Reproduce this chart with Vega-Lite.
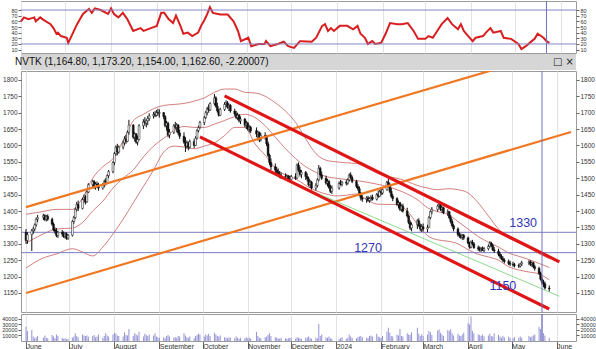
{
"$schema": "https://vega.github.io/schema/vega-lite/v6.json",
"padding": 0,
"background": "white",
"spacing": 0,
"config": {"view": {"stroke": "#9a9a9a"}, "font": "Liberation Sans", "axis": {"labelFont": "Liberation Sans", "labelColor": "#333", "tickColor": "#666", "gridColor": "#e2e2ea", "labelFontSize": 7}},
"datasets": {
"px": [
{"d":"2023-06-01","o":1335,"h":1345,"l":1300,"c":1310,"v":26000},
{"d":"2023-06-02","o":1310,"h":1335,"l":1300,"c":1328,"v":18000},
{"d":"2023-06-05","o":1328,"h":1345,"l":1278,"c":1340,"v":20000},
{"d":"2023-06-06","o":1340,"h":1352,"l":1330,"c":1345,"v":8000},
{"d":"2023-06-07","o":1345,"h":1362,"l":1338,"c":1358,"v":5000},
{"d":"2023-06-08","o":1358,"h":1380,"l":1352,"c":1375,"v":7000},
{"d":"2023-06-09","o":1375,"h":1388,"l":1366,"c":1380,"v":9000},
{"d":"2023-06-13","o":1380,"h":1392,"l":1372,"c":1386,"v":6000},
{"d":"2023-06-14","o":1386,"h":1390,"l":1370,"c":1374,"v":10000},
{"d":"2023-06-15","o":1374,"h":1388,"l":1368,"c":1384,"v":6000},
{"d":"2023-06-16","o":1384,"h":1390,"l":1370,"c":1375,"v":5000},
{"d":"2023-06-19","o":1375,"h":1380,"l":1355,"c":1360,"v":11000},
{"d":"2023-06-20","o":1360,"h":1365,"l":1338,"c":1342,"v":8000},
{"d":"2023-06-21","o":1342,"h":1350,"l":1330,"c":1338,"v":5000},
{"d":"2023-06-22","o":1338,"h":1348,"l":1320,"c":1325,"v":12000},
{"d":"2023-06-23","o":1325,"h":1340,"l":1318,"c":1335,"v":9000},
{"d":"2023-06-26","o":1335,"h":1342,"l":1322,"c":1330,"v":6000},
{"d":"2023-06-27","o":1330,"h":1338,"l":1318,"c":1322,"v":4000},
{"d":"2023-06-28","o":1322,"h":1335,"l":1315,"c":1330,"v":5000},
{"d":"2023-06-29","o":1330,"h":1335,"l":1312,"c":1318,"v":3000},
{"d":"2023-06-30","o":1318,"h":1330,"l":1312,"c":1326,"v":4000},
{"d":"2023-07-03","o":1326,"h":1372,"l":1322,"c":1368,"v":6000},
{"d":"2023-07-04","o":1368,"h":1385,"l":1360,"c":1380,"v":8000},
{"d":"2023-07-05","o":1380,"h":1410,"l":1375,"c":1405,"v":14000},
{"d":"2023-07-06","o":1405,"h":1428,"l":1398,"c":1420,"v":9000},
{"d":"2023-07-07","o":1420,"h":1432,"l":1400,"c":1408,"v":7000},
{"d":"2023-07-10","o":1408,"h":1440,"l":1405,"c":1435,"v":12000},
{"d":"2023-07-11","o":1435,"h":1450,"l":1425,"c":1442,"v":10000},
{"d":"2023-07-12","o":1442,"h":1448,"l":1420,"c":1428,"v":9000},
{"d":"2023-07-13","o":1428,"h":1462,"l":1425,"c":1458,"v":10000},
{"d":"2023-07-14","o":1458,"h":1485,"l":1455,"c":1480,"v":8000},
{"d":"2023-07-17","o":1480,"h":1495,"l":1470,"c":1490,"v":9000},
{"d":"2023-07-18","o":1490,"h":1494,"l":1468,"c":1475,"v":11000},
{"d":"2023-07-19","o":1475,"h":1488,"l":1465,"c":1482,"v":7000},
{"d":"2023-07-20","o":1482,"h":1490,"l":1470,"c":1478,"v":8000},
{"d":"2023-07-21","o":1478,"h":1486,"l":1462,"c":1470,"v":12000},
{"d":"2023-07-24","o":1470,"h":1485,"l":1465,"c":1480,"v":6000},
{"d":"2023-07-25","o":1480,"h":1496,"l":1472,"c":1490,"v":9000},
{"d":"2023-07-26","o":1490,"h":1500,"l":1478,"c":1485,"v":14000},
{"d":"2023-07-27","o":1485,"h":1512,"l":1482,"c":1508,"v":10000},
{"d":"2023-07-28","o":1508,"h":1525,"l":1500,"c":1520,"v":8000},
{"d":"2023-07-31","o":1520,"h":1552,"l":1515,"c":1548,"v":12000},
{"d":"2023-08-01","o":1548,"h":1580,"l":1540,"c":1575,"v":15000},
{"d":"2023-08-02","o":1575,"h":1600,"l":1568,"c":1595,"v":13000},
{"d":"2023-08-03","o":1595,"h":1605,"l":1570,"c":1580,"v":10000},
{"d":"2023-08-04","o":1580,"h":1600,"l":1575,"c":1595,"v":9000},
{"d":"2023-08-07","o":1595,"h":1615,"l":1588,"c":1608,"v":8000},
{"d":"2023-08-08","o":1608,"h":1628,"l":1600,"c":1620,"v":16000},
{"d":"2023-08-09","o":1620,"h":1632,"l":1605,"c":1612,"v":11000},
{"d":"2023-08-10","o":1612,"h":1645,"l":1610,"c":1640,"v":10000},
{"d":"2023-08-11","o":1640,"h":1678,"l":1632,"c":1662,"v":22000},
{"d":"2023-08-14","o":1662,"h":1665,"l":1620,"c":1625,"v":9000},
{"d":"2023-08-15","o":1625,"h":1640,"l":1612,"c":1635,"v":14000},
{"d":"2023-08-16","o":1635,"h":1638,"l":1605,"c":1610,"v":12000},
{"d":"2023-08-17","o":1610,"h":1630,"l":1600,"c":1618,"v":10000},
{"d":"2023-08-18","o":1618,"h":1665,"l":1615,"c":1660,"v":17000},
{"d":"2023-08-21","o":1660,"h":1680,"l":1650,"c":1672,"v":8000},
{"d":"2023-08-22","o":1672,"h":1686,"l":1660,"c":1668,"v":13000},
{"d":"2023-08-23","o":1668,"h":1680,"l":1655,"c":1675,"v":11000},
{"d":"2023-08-24","o":1675,"h":1690,"l":1662,"c":1682,"v":9000},
{"d":"2023-08-25","o":1682,"h":1698,"l":1675,"c":1690,"v":12000},
{"d":"2023-08-28","o":1690,"h":1702,"l":1682,"c":1695,"v":10000},
{"d":"2023-08-29","o":1695,"h":1705,"l":1686,"c":1692,"v":14000},
{"d":"2023-08-30","o":1692,"h":1708,"l":1688,"c":1700,"v":8000},
{"d":"2023-08-31","o":1700,"h":1712,"l":1690,"c":1698,"v":7000},
{"d":"2023-09-01","o":1698,"h":1710,"l":1685,"c":1700,"v":6000},
{"d":"2023-09-04","o":1700,"h":1702,"l":1680,"c":1688,"v":7000},
{"d":"2023-09-05","o":1688,"h":1692,"l":1655,"c":1660,"v":5000},
{"d":"2023-09-06","o":1660,"h":1675,"l":1645,"c":1668,"v":9000},
{"d":"2023-09-07","o":1668,"h":1672,"l":1625,"c":1632,"v":11000},
{"d":"2023-09-08","o":1632,"h":1650,"l":1622,"c":1640,"v":8000},
{"d":"2023-09-11","o":1640,"h":1665,"l":1635,"c":1660,"v":6000},
{"d":"2023-09-12","o":1660,"h":1672,"l":1650,"c":1655,"v":7000},
{"d":"2023-09-13","o":1655,"h":1668,"l":1640,"c":1662,"v":6000},
{"d":"2023-09-14","o":1662,"h":1665,"l":1632,"c":1638,"v":9000},
{"d":"2023-09-15","o":1638,"h":1648,"l":1620,"c":1628,"v":8000},
{"d":"2023-09-18","o":1628,"h":1640,"l":1605,"c":1610,"v":14000},
{"d":"2023-09-19","o":1610,"h":1625,"l":1580,"c":1598,"v":10000},
{"d":"2023-09-20","o":1598,"h":1615,"l":1590,"c":1608,"v":7000},
{"d":"2023-09-21","o":1608,"h":1612,"l":1585,"c":1595,"v":6000},
{"d":"2023-09-22","o":1595,"h":1618,"l":1590,"c":1612,"v":8000},
{"d":"2023-09-25","o":1612,"h":1620,"l":1592,"c":1600,"v":5000},
{"d":"2023-09-26","o":1600,"h":1628,"l":1598,"c":1622,"v":9000},
{"d":"2023-09-27","o":1622,"h":1650,"l":1618,"c":1645,"v":11000},
{"d":"2023-09-28","o":1645,"h":1660,"l":1640,"c":1655,"v":13000},
{"d":"2023-09-29","o":1655,"h":1675,"l":1650,"c":1670,"v":12000},
{"d":"2023-10-02","o":1670,"h":1690,"l":1662,"c":1685,"v":8000},
{"d":"2023-10-03","o":1685,"h":1705,"l":1680,"c":1700,"v":12000},
{"d":"2023-10-04","o":1700,"h":1718,"l":1692,"c":1712,"v":10000},
{"d":"2023-10-05","o":1712,"h":1725,"l":1700,"c":1708,"v":13000},
{"d":"2023-10-06","o":1708,"h":1732,"l":1705,"c":1728,"v":9000},
{"d":"2023-10-09","o":1728,"h":1757,"l":1722,"c":1745,"v":15000},
{"d":"2023-10-10","o":1745,"h":1750,"l":1715,"c":1720,"v":12000},
{"d":"2023-10-11","o":1720,"h":1730,"l":1700,"c":1705,"v":9000},
{"d":"2023-10-12","o":1705,"h":1712,"l":1688,"c":1692,"v":8000},
{"d":"2023-10-13","o":1692,"h":1715,"l":1690,"c":1710,"v":10000},
{"d":"2023-10-16","o":1710,"h":1732,"l":1705,"c":1725,"v":7000},
{"d":"2023-10-17","o":1725,"h":1738,"l":1715,"c":1730,"v":6000},
{"d":"2023-10-18","o":1730,"h":1735,"l":1712,"c":1718,"v":5000},
{"d":"2023-10-19","o":1718,"h":1728,"l":1705,"c":1722,"v":7000},
{"d":"2023-10-20","o":1722,"h":1726,"l":1700,"c":1705,"v":6000},
{"d":"2023-10-23","o":1705,"h":1712,"l":1690,"c":1696,"v":5000},
{"d":"2023-10-24","o":1696,"h":1705,"l":1680,"c":1685,"v":8000},
{"d":"2023-10-25","o":1685,"h":1700,"l":1678,"c":1692,"v":6000},
{"d":"2023-10-26","o":1692,"h":1696,"l":1670,"c":1675,"v":4000},
{"d":"2023-10-27","o":1675,"h":1688,"l":1665,"c":1680,"v":6000},
{"d":"2023-10-30","o":1680,"h":1684,"l":1655,"c":1662,"v":5000},
{"d":"2023-10-31","o":1662,"h":1675,"l":1650,"c":1668,"v":7000},
{"d":"2023-11-01","o":1668,"h":1672,"l":1645,"c":1650,"v":5000},
{"d":"2023-11-02","o":1650,"h":1662,"l":1640,"c":1655,"v":6000},
{"d":"2023-11-03","o":1655,"h":1660,"l":1638,"c":1645,"v":4000},
{"d":"2023-11-07","o":1645,"h":1655,"l":1625,"c":1635,"v":17000},
{"d":"2023-11-08","o":1635,"h":1645,"l":1615,"c":1640,"v":9000},
{"d":"2023-11-09","o":1640,"h":1642,"l":1610,"c":1618,"v":6000},
{"d":"2023-11-10","o":1618,"h":1638,"l":1612,"c":1630,"v":5000},
{"d":"2023-11-13","o":1630,"h":1640,"l":1618,"c":1625,"v":7000},
{"d":"2023-11-14","o":1625,"h":1632,"l":1598,"c":1605,"v":8000},
{"d":"2023-11-15","o":1605,"h":1612,"l":1565,"c":1570,"v":11000},
{"d":"2023-11-16","o":1570,"h":1575,"l":1540,"c":1548,"v":14000},
{"d":"2023-11-17","o":1548,"h":1560,"l":1525,"c":1535,"v":9000},
{"d":"2023-11-20","o":1535,"h":1545,"l":1515,"c":1525,"v":7000},
{"d":"2023-11-21","o":1525,"h":1535,"l":1510,"c":1518,"v":6000},
{"d":"2023-11-22","o":1518,"h":1530,"l":1505,"c":1512,"v":5000},
{"d":"2023-11-23","o":1512,"h":1522,"l":1500,"c":1508,"v":4000},
{"d":"2023-11-24","o":1508,"h":1518,"l":1498,"c":1505,"v":6000},
{"d":"2023-11-27","o":1505,"h":1515,"l":1495,"c":1500,"v":5000},
{"d":"2023-11-28","o":1500,"h":1512,"l":1492,"c":1506,"v":4000},
{"d":"2023-11-29","o":1506,"h":1510,"l":1490,"c":1498,"v":5000},
{"d":"2023-11-30","o":1498,"h":1508,"l":1488,"c":1495,"v":6000},
{"d":"2023-12-01","o":1495,"h":1510,"l":1490,"c":1505,"v":5000},
{"d":"2023-12-04","o":1505,"h":1515,"l":1495,"c":1500,"v":4000},
{"d":"2023-12-05","o":1500,"h":1545,"l":1498,"c":1540,"v":7000},
{"d":"2023-12-06","o":1540,"h":1548,"l":1520,"c":1525,"v":6000},
{"d":"2023-12-07","o":1525,"h":1535,"l":1505,"c":1512,"v":5000},
{"d":"2023-12-08","o":1512,"h":1525,"l":1500,"c":1518,"v":4000},
{"d":"2023-12-11","o":1518,"h":1522,"l":1495,"c":1505,"v":6000},
{"d":"2023-12-12","o":1505,"h":1515,"l":1490,"c":1498,"v":7000},
{"d":"2023-12-13","o":1498,"h":1505,"l":1475,"c":1480,"v":8000},
{"d":"2023-12-14","o":1480,"h":1495,"l":1470,"c":1488,"v":5000},
{"d":"2023-12-15","o":1488,"h":1492,"l":1465,"c":1470,"v":4000},
{"d":"2023-12-18","o":1470,"h":1485,"l":1462,"c":1478,"v":6000},
{"d":"2023-12-19","o":1478,"h":1500,"l":1472,"c":1495,"v":5000},
{"d":"2023-12-20","o":1495,"h":1540,"l":1490,"c":1530,"v":31000},
{"d":"2023-12-21","o":1530,"h":1535,"l":1505,"c":1510,"v":9000},
{"d":"2023-12-22","o":1510,"h":1520,"l":1495,"c":1500,"v":12000},
{"d":"2023-12-25","o":1500,"h":1508,"l":1480,"c":1485,"v":7000},
{"d":"2023-12-26","o":1485,"h":1498,"l":1475,"c":1490,"v":6000},
{"d":"2023-12-27","o":1490,"h":1495,"l":1468,"c":1472,"v":8000},
{"d":"2023-12-28","o":1472,"h":1480,"l":1455,"c":1460,"v":5000},
{"d":"2023-12-29","o":1460,"h":1478,"l":1452,"c":1470,"v":4000},
{"d":"2024-01-03","o":1470,"h":1490,"l":1465,"c":1485,"v":3000},
{"d":"2024-01-04","o":1485,"h":1495,"l":1478,"c":1482,"v":5000},
{"d":"2024-01-05","o":1482,"h":1492,"l":1475,"c":1488,"v":7000},
{"d":"2024-01-08","o":1488,"h":1495,"l":1478,"c":1485,"v":4000},
{"d":"2024-01-09","o":1485,"h":1500,"l":1480,"c":1495,"v":6000},
{"d":"2024-01-10","o":1495,"h":1515,"l":1490,"c":1510,"v":12000},
{"d":"2024-01-11","o":1510,"h":1518,"l":1498,"c":1502,"v":8000},
{"d":"2024-01-12","o":1502,"h":1508,"l":1485,"c":1490,"v":6000},
{"d":"2024-01-15","o":1490,"h":1495,"l":1470,"c":1475,"v":5000},
{"d":"2024-01-16","o":1475,"h":1482,"l":1462,"c":1468,"v":7000},
{"d":"2024-01-17","o":1468,"h":1475,"l":1445,"c":1450,"v":8000},
{"d":"2024-01-18","o":1450,"h":1458,"l":1432,"c":1440,"v":9000},
{"d":"2024-01-19","o":1440,"h":1448,"l":1428,"c":1436,"v":7000},
{"d":"2024-01-22","o":1436,"h":1445,"l":1425,"c":1440,"v":6000},
{"d":"2024-01-23","o":1440,"h":1446,"l":1428,"c":1432,"v":5000},
{"d":"2024-01-24","o":1432,"h":1442,"l":1425,"c":1438,"v":9000},
{"d":"2024-01-25","o":1438,"h":1448,"l":1430,"c":1442,"v":10000},
{"d":"2024-01-26","o":1442,"h":1450,"l":1432,"c":1436,"v":8000},
{"d":"2024-01-29","o":1436,"h":1455,"l":1432,"c":1450,"v":13000},
{"d":"2024-01-30","o":1450,"h":1462,"l":1440,"c":1445,"v":8000},
{"d":"2024-01-31","o":1445,"h":1465,"l":1442,"c":1460,"v":7000},
{"d":"2024-02-01","o":1460,"h":1468,"l":1448,"c":1455,"v":6000},
{"d":"2024-02-02","o":1455,"h":1470,"l":1450,"c":1465,"v":9000},
{"d":"2024-02-05","o":1465,"h":1492,"l":1462,"c":1488,"v":17000},
{"d":"2024-02-06","o":1488,"h":1498,"l":1475,"c":1480,"v":24000},
{"d":"2024-02-07","o":1480,"h":1485,"l":1455,"c":1460,"v":15000},
{"d":"2024-02-08","o":1460,"h":1470,"l":1440,"c":1445,"v":9000},
{"d":"2024-02-09","o":1445,"h":1452,"l":1430,"c":1438,"v":8000},
{"d":"2024-02-12","o":1438,"h":1442,"l":1415,"c":1420,"v":12000},
{"d":"2024-02-13","o":1420,"h":1432,"l":1408,"c":1425,"v":10000},
{"d":"2024-02-14","o":1425,"h":1428,"l":1400,"c":1405,"v":22000},
{"d":"2024-02-15","o":1405,"h":1420,"l":1398,"c":1415,"v":9000},
{"d":"2024-02-16","o":1415,"h":1422,"l":1395,"c":1400,"v":8000},
{"d":"2024-02-19","o":1400,"h":1410,"l":1380,"c":1385,"v":14000},
{"d":"2024-02-20","o":1385,"h":1390,"l":1360,"c":1365,"v":12000},
{"d":"2024-02-21","o":1365,"h":1372,"l":1342,"c":1348,"v":11000},
{"d":"2024-02-22","o":1348,"h":1365,"l":1338,"c":1358,"v":16000},
{"d":"2024-02-26","o":1358,"h":1375,"l":1345,"c":1370,"v":24000},
{"d":"2024-02-27","o":1370,"h":1378,"l":1352,"c":1355,"v":13000},
{"d":"2024-02-28","o":1355,"h":1362,"l":1338,"c":1345,"v":9000},
{"d":"2024-02-29","o":1345,"h":1360,"l":1336,"c":1352,"v":12000},
{"d":"2024-03-01","o":1352,"h":1362,"l":1338,"c":1345,"v":9000},
{"d":"2024-03-04","o":1345,"h":1358,"l":1335,"c":1350,"v":12000},
{"d":"2024-03-05","o":1350,"h":1385,"l":1348,"c":1380,"v":18000},
{"d":"2024-03-06","o":1380,"h":1402,"l":1375,"c":1398,"v":16000},
{"d":"2024-03-07","o":1398,"h":1412,"l":1390,"c":1405,"v":11000},
{"d":"2024-03-11","o":1405,"h":1420,"l":1398,"c":1415,"v":19000},
{"d":"2024-03-12","o":1415,"h":1428,"l":1408,"c":1420,"v":21000},
{"d":"2024-03-13","o":1420,"h":1424,"l":1400,"c":1405,"v":15000},
{"d":"2024-03-14","o":1405,"h":1415,"l":1395,"c":1410,"v":12000},
{"d":"2024-03-15","o":1410,"h":1413,"l":1390,"c":1395,"v":9000},
{"d":"2024-03-18","o":1395,"h":1405,"l":1385,"c":1398,"v":20000},
{"d":"2024-03-19","o":1398,"h":1400,"l":1375,"c":1380,"v":18000},
{"d":"2024-03-20","o":1380,"h":1388,"l":1362,"c":1368,"v":22000},
{"d":"2024-03-21","o":1368,"h":1375,"l":1350,"c":1355,"v":14000},
{"d":"2024-03-22","o":1355,"h":1360,"l":1338,"c":1345,"v":10000},
{"d":"2024-03-25","o":1345,"h":1350,"l":1322,"c":1328,"v":13000},
{"d":"2024-03-26","o":1328,"h":1335,"l":1318,"c":1325,"v":10000},
{"d":"2024-03-27","o":1325,"h":1332,"l":1315,"c":1320,"v":9000},
{"d":"2024-03-28","o":1320,"h":1330,"l":1312,"c":1326,"v":12000},
{"d":"2024-03-29","o":1326,"h":1330,"l":1312,"c":1318,"v":15000},
{"d":"2024-04-01","o":1318,"h":1322,"l":1298,"c":1302,"v":33000},
{"d":"2024-04-02","o":1302,"h":1306,"l":1285,"c":1290,"v":30000},
{"d":"2024-04-03","o":1290,"h":1310,"l":1286,"c":1305,"v":45000},
{"d":"2024-04-04","o":1305,"h":1312,"l":1295,"c":1300,"v":18000},
{"d":"2024-04-05","o":1300,"h":1305,"l":1285,"c":1288,"v":14000},
{"d":"2024-04-08","o":1288,"h":1295,"l":1278,"c":1285,"v":12000},
{"d":"2024-04-09","o":1285,"h":1292,"l":1276,"c":1282,"v":11000},
{"d":"2024-04-10","o":1282,"h":1290,"l":1275,"c":1286,"v":9000},
{"d":"2024-04-11","o":1286,"h":1292,"l":1278,"c":1280,"v":12000},
{"d":"2024-04-12","o":1280,"h":1290,"l":1274,"c":1285,"v":8000},
{"d":"2024-04-15","o":1285,"h":1298,"l":1280,"c":1292,"v":10000},
{"d":"2024-04-16","o":1292,"h":1308,"l":1288,"c":1302,"v":13000},
{"d":"2024-04-17","o":1302,"h":1306,"l":1290,"c":1295,"v":9000},
{"d":"2024-04-18","o":1295,"h":1300,"l":1278,"c":1282,"v":8000},
{"d":"2024-04-19","o":1282,"h":1290,"l":1272,"c":1278,"v":14000},
{"d":"2024-04-22","o":1278,"h":1285,"l":1262,"c":1268,"v":11000},
{"d":"2024-04-23","o":1268,"h":1275,"l":1255,"c":1262,"v":8000},
{"d":"2024-04-24","o":1262,"h":1268,"l":1250,"c":1255,"v":6000},
{"d":"2024-04-25","o":1255,"h":1262,"l":1245,"c":1250,"v":9000},
{"d":"2024-04-26","o":1250,"h":1256,"l":1240,"c":1246,"v":7000},
{"d":"2024-04-29","o":1246,"h":1252,"l":1235,"c":1240,"v":8000},
{"d":"2024-04-30","o":1240,"h":1248,"l":1232,"c":1238,"v":6000},
{"d":"2024-05-02","o":1238,"h":1245,"l":1230,"c":1236,"v":5000},
{"d":"2024-05-03","o":1236,"h":1242,"l":1228,"c":1234,"v":7000},
{"d":"2024-05-06","o":1234,"h":1240,"l":1226,"c":1232,"v":6000},
{"d":"2024-05-07","o":1232,"h":1242,"l":1228,"c":1238,"v":8000},
{"d":"2024-05-08","o":1238,"h":1248,"l":1232,"c":1242,"v":6000},
{"d":"2024-05-13","o":1242,"h":1250,"l":1235,"c":1245,"v":9000},
{"d":"2024-05-14","o":1245,"h":1250,"l":1232,"c":1238,"v":7000},
{"d":"2024-05-15","o":1238,"h":1246,"l":1230,"c":1242,"v":8000},
{"d":"2024-05-16","o":1242,"h":1245,"l":1225,"c":1230,"v":10000},
{"d":"2024-05-17","o":1230,"h":1236,"l":1218,"c":1225,"v":12000},
{"d":"2024-05-20","o":1225,"h":1230,"l":1205,"c":1210,"v":26000},
{"d":"2024-05-21","o":1210,"h":1215,"l":1188,"c":1192,"v":22000},
{"d":"2024-05-22","o":1192,"h":1200,"l":1175,"c":1182,"v":47000},
{"d":"2024-05-23","o":1182,"h":1190,"l":1168,"c":1178,"v":14000},
{"d":"2024-05-24","o":1178,"h":1185,"l":1160,"c":1165,"v":10000},
{"d":"2024-05-27","o":1164.8,"h":1173.2,"l":1154,"c":1162.6,"v":6000}
],
"bb": [
{"d":"2023-06-01","u":1390,"m":1302,"l":1226},
{"d":"2023-06-12","u":1398,"m":1328,"l":1255},
{"d":"2023-06-22","u":1405,"m":1345,"l":1269},
{"d":"2023-07-03","u":1405,"m":1348,"l":1285},
{"d":"2023-07-10","u":1440,"m":1365,"l":1275},
{"d":"2023-07-17","u":1500,"m":1400,"l":1263},
{"d":"2023-07-24","u":1535,"m":1430,"l":1290},
{"d":"2023-07-31","u":1560,"m":1470,"l":1330},
{"d":"2023-08-07","u":1614,"m":1500,"l":1375},
{"d":"2023-08-14","u":1675,"m":1525,"l":1425},
{"d":"2023-08-21","u":1695,"m":1565,"l":1475},
{"d":"2023-08-28","u":1712,"m":1598,"l":1525},
{"d":"2023-09-04","u":1722,"m":1622,"l":1580},
{"d":"2023-09-11","u":1725,"m":1645,"l":1598},
{"d":"2023-09-18","u":1728,"m":1658,"l":1595},
{"d":"2023-09-25","u":1735,"m":1655,"l":1590},
{"d":"2023-10-02","u":1745,"m":1655,"l":1598},
{"d":"2023-10-09","u":1762,"m":1665,"l":1608},
{"d":"2023-10-16","u":1772,"m":1676,"l":1630},
{"d":"2023-10-23","u":1772,"m":1688,"l":1655},
{"d":"2023-10-30","u":1762,"m":1695,"l":1655},
{"d":"2023-11-06","u":1760,"m":1685,"l":1605},
{"d":"2023-11-13","u":1750,"m":1660,"l":1570},
{"d":"2023-11-20","u":1730,"m":1625,"l":1530},
{"d":"2023-11-27","u":1705,"m":1590,"l":1510},
{"d":"2023-12-04","u":1670,"m":1560,"l":1498},
{"d":"2023-12-11","u":1620,"m":1535,"l":1478},
{"d":"2023-12-18","u":1575,"m":1518,"l":1462},
{"d":"2023-12-25","u":1555,"m":1505,"l":1452},
{"d":"2024-01-01","u":1550,"m":1500,"l":1446},
{"d":"2024-01-08","u":1547,"m":1496,"l":1448},
{"d":"2024-01-15","u":1545,"m":1493,"l":1452},
{"d":"2024-01-22","u":1532,"m":1488,"l":1435},
{"d":"2024-01-29","u":1516,"m":1482,"l":1421},
{"d":"2024-02-05","u":1505,"m":1475,"l":1420},
{"d":"2024-02-12","u":1500,"m":1465,"l":1420},
{"d":"2024-02-19","u":1490,"m":1452,"l":1400},
{"d":"2024-02-26","u":1478,"m":1435,"l":1360},
{"d":"2024-03-04","u":1470,"m":1410,"l":1325},
{"d":"2024-03-11","u":1465,"m":1398,"l":1312},
{"d":"2024-03-18","u":1468,"m":1390,"l":1308},
{"d":"2024-03-25","u":1465,"m":1368,"l":1300},
{"d":"2024-04-01","u":1455,"m":1345,"l":1282},
{"d":"2024-04-08","u":1425,"m":1322,"l":1268},
{"d":"2024-04-15","u":1385,"m":1305,"l":1260},
{"d":"2024-04-22","u":1345,"m":1290,"l":1250},
{"d":"2024-04-29","u":1318,"m":1272,"l":1230},
{"d":"2024-05-06","u":1305,"m":1262,"l":1220},
{"d":"2024-05-13","u":1288,"m":1252,"l":1214},
{"d":"2024-05-20","u":1270,"m":1240,"l":1208},
{"d":"2024-05-27","u":1255,"m":1228,"l":1190}
],
"rsi": [
{"d":"2023-06-01","r":60},{"d":"2023-06-03","r":67},{"d":"2023-06-06","r":64},{"d":"2023-06-10","r":67},{"d":"2023-06-11","r":60},{"d":"2023-06-14","r":67},{"d":"2023-06-16","r":63},{"d":"2023-06-21","r":55},{"d":"2023-06-23","r":48},{"d":"2023-06-25","r":38},{"d":"2023-06-26","r":40},{"d":"2023-06-28","r":34},{"d":"2023-07-02","r":31},{"d":"2023-07-03","r":22},{"d":"2023-07-09","r":55},{"d":"2023-07-11","r":64},{"d":"2023-07-13","r":73},{"d":"2023-07-17","r":82},{"d":"2023-07-19","r":75},{"d":"2023-07-21","r":83},{"d":"2023-07-25","r":80},{"d":"2023-07-30","r":73},{"d":"2023-08-01","r":83},{"d":"2023-08-03","r":73},{"d":"2023-08-06","r":67},{"d":"2023-08-09","r":75},{"d":"2023-08-12","r":64},{"d":"2023-08-16","r":43},{"d":"2023-08-21","r":48},{"d":"2023-08-23","r":43},{"d":"2023-08-28","r":48},{"d":"2023-09-01","r":52},{"d":"2023-09-04","r":75},{"d":"2023-09-06","r":75},{"d":"2023-09-09","r":64},{"d":"2023-09-12","r":57},{"d":"2023-09-14","r":70},{"d":"2023-09-17","r":52},{"d":"2023-09-19","r":38},{"d":"2023-09-22","r":40},{"d":"2023-09-25","r":34},{"d":"2023-09-29","r":40},{"d":"2023-10-01","r":52},{"d":"2023-10-03","r":61},{"d":"2023-10-05","r":72},{"d":"2023-10-07","r":85},{"d":"2023-10-09","r":75},{"d":"2023-10-14","r":72},{"d":"2023-10-19","r":72},{"d":"2023-10-23","r":60},{"d":"2023-10-26","r":43},{"d":"2023-10-28","r":25},{"d":"2023-11-02","r":31},{"d":"2023-11-04","r":16},{"d":"2023-11-09","r":20},{"d":"2023-11-13","r":20},{"d":"2023-11-14","r":25},{"d":"2023-11-17","r":16},{"d":"2023-11-22","r":20},{"d":"2023-11-26","r":24},{"d":"2023-11-29","r":16},{"d":"2023-12-03","r":13},{"d":"2023-12-07","r":25},{"d":"2023-12-08","r":25},{"d":"2023-12-15","r":24},{"d":"2023-12-18","r":31},{"d":"2023-12-22","r":52},{"d":"2023-12-24","r":55},{"d":"2023-12-26","r":43},{"d":"2023-12-28","r":48},{"d":"2023-12-30","r":43},{"d":"2024-01-03","r":52},{"d":"2024-01-08","r":52},{"d":"2024-01-12","r":46},{"d":"2024-01-15","r":52},{"d":"2024-01-17","r":38},{"d":"2024-01-20","r":31},{"d":"2024-01-22","r":20},{"d":"2024-01-25","r":25},{"d":"2024-01-27","r":20},{"d":"2024-01-31","r":22},{"d":"2024-02-03","r":38},{"d":"2024-02-06","r":57},{"d":"2024-02-11","r":55},{"d":"2024-02-14","r":55},{"d":"2024-02-18","r":57},{"d":"2024-02-22","r":43},{"d":"2024-02-25","r":29},{"d":"2024-03-01","r":29},{"d":"2024-03-03","r":34},{"d":"2024-03-06","r":31},{"d":"2024-03-09","r":43},{"d":"2024-03-12","r":55},{"d":"2024-03-16","r":66},{"d":"2024-03-19","r":55},{"d":"2024-03-23","r":46},{"d":"2024-03-25","r":55},{"d":"2024-03-27","r":43},{"d":"2024-03-30","r":34},{"d":"2024-04-02","r":25},{"d":"2024-04-04","r":31},{"d":"2024-04-09","r":34},{"d":"2024-04-11","r":40},{"d":"2024-04-14","r":48},{"d":"2024-04-16","r":40},{"d":"2024-04-21","r":43},{"d":"2024-04-23","r":31},{"d":"2024-04-28","r":29},{"d":"2024-05-03","r":20},{"d":"2024-05-05","r":11},{"d":"2024-05-08","r":16},{"d":"2024-05-12","r":25},{"d":"2024-05-14","r":29},{"d":"2024-05-16","r":38},{"d":"2024-05-20","r":31},{"d":"2024-05-22","r":25},{"d":"2024-05-24","r":22}
],
"trend": [
{"g":"orange","k":"o1","d":"2023-06-01","v":1412},{"g":"orange","k":"o1","d":"2024-06-11","v":1900},
{"g":"orange","k":"o2","d":"2023-06-01","v":1150},{"g":"orange","k":"o2","d":"2024-06-11","v":1641},
{"g":"red","k":"r1","d":"2023-10-16","v":1751},{"g":"red","k":"r1","d":"2024-06-03","v":1245},
{"g":"red","k":"r2","d":"2023-09-29","v":1626},{"g":"red","k":"r2","d":"2024-05-27","v":1101},
{"g":"green","k":"g1","d":"2023-12-21","v":1450},{"g":"green","k":"g1","d":"2024-06-03","v":1140}
],
"levels": [{"lv":1335},{"lv":1273}],
"vline": [{"d":"2024-05-22"}],
"labels": [{"t":"1330","d":"2024-05-09","v":1364},{"t":"1270","d":"2024-01-23","v":1287},{"t":"1150","d":"2024-04-25","v":1171}]
},
"vconcat": [
{
"width": 555, "height": 52,
"layer": [
{"data": {"name": "rsi"}, "mark": {"type": "line", "color": "#d81e1e", "strokeWidth": 2},
 "encoding": {
  "x": {"field": "d", "type": "temporal", "scale": {"domain": [{"year":2023,"month":6,"date":1,"utc":true},{"year":2024,"month":6,"date":11,"utc":true}]}, "axis": {"labels": false, "ticks": false, "domain": false, "title": null, "grid": true, "tickCount": {"interval": "month", "step": 1}, "minExtent": 0, "maxExtent": 0}},
  "y": {"field": "r", "type": "quantitative", "scale": {"domain": [4, 96]}, "axis": {"orient": "left", "values": [10,20,30,40,50,60,70,80], "labelOverlap": false, "title": null, "grid": false, "domain": false, "tickSize": 3, "labelPadding": 1, "labelFontSize": 5.5, "minExtent": 20, "maxExtent": 20}}}},
{"data": {"values": [{"lv": 80}, {"lv": 20}]}, "mark": {"type": "rule", "color": "#8686c6", "strokeWidth": 1},
 "encoding": {"y": {"field": "lv", "type": "quantitative", "scale": {"domain": [4, 96]}, "axis": {"orient": "right", "values": [10,20,30,40,50,60,70,80], "labelOverlap": false, "title": null, "grid": false, "domain": false, "tickSize": 3, "labelPadding": 1, "labelFontSize": 5.5, "minExtent": 21, "maxExtent": 21}}}},
{"data": {"name": "vline"}, "mark": {"type": "rule", "color": "#7070c0"}, "encoding": {"x": {"field": "d", "type": "temporal"}}}
],
"resolve": {"axis": {"y": "independent"}}
},
{
"width": 555, "height": 16,
"view": {"fill": "#d6d6d6", "stroke": null},
"layer": [
{"data": {"values": [{"t": "NVTK (1,164.80, 1,173.20, 1,154.00, 1,162.60, -2.20007)"}]},
 "mark": {"type": "text", "align": "left", "baseline": "middle", "fontSize": 10, "dx": -6, "color": "#111"},
 "encoding": {"x": {"datum": {"year":2023,"month":6,"date":1,"utc":true}, "type": "temporal", "scale": {"domain": [{"year":2023,"month":6,"date":1,"utc":true},{"year":2024,"month":6,"date":11,"utc":true}]}, "axis": null}, "text": {"field": "t"}}},
{"data": {"values": [{"t": "□ ×"}]},
 "mark": {"type": "text", "align": "right", "baseline": "middle", "fontSize": 10, "dx": -2, "font": "DejaVu Sans", "color": "#222"},
 "encoding": {"x": {"datum": {"year":2024,"month":6,"date":11,"utc":true}, "type": "temporal"}, "text": {"field": "t"}}}
]
},
{
"width": 555, "height": 241,
"layer": [
{"data": {"name": "bb"}, "transform": [{"fold": ["u", "m", "l"], "as": ["band", "val"]}],
 "mark": {"type": "line", "color": "#c04848", "strokeWidth": 0.7, "interpolate": "monotone", "clip": true},
 "encoding": {
  "x": {"field": "d", "type": "temporal", "scale": {"domain": [{"year":2023,"month":6,"date":1,"utc":true},{"year":2024,"month":6,"date":11,"utc":true}]}, "axis": {"labels": false, "ticks": false, "domain": false, "title": null, "grid": true, "tickCount": {"interval": "month", "step": 1}, "minExtent": 0, "maxExtent": 0}},
  "y": {"field": "val", "type": "quantitative", "scale": {"domain": [1092, 1827]}, "axis": null},
  "detail": {"field": "band"}}},
{"data": {"name": "levels"}, "mark": {"type": "rule", "color": "#7c7cc4", "strokeWidth": 1},
 "encoding": {"y": {"field": "lv", "type": "quantitative", "scale": {"domain": [1092, 1827]}, "axis": {"orient": "right", "format": "d", "values": [1150,1200,1250,1300,1350,1400,1450,1500,1550,1600,1650,1700,1750,1800], "title": null, "grid": false, "domain": false, "tickSize": 3, "labelPadding": 1, "labelFontSize": 6.5, "minExtent": 21, "maxExtent": 21}}}},
{"data": {"name": "px"}, "mark": {"type": "rule", "color": "#111", "strokeWidth": 1},
 "encoding": {
  "x": {"field": "d", "type": "temporal"},
  "y": {"field": "l", "type": "quantitative", "scale": {"domain": [1092, 1827]}, "axis": {"orient": "left", "format": "d", "values": [1150,1200,1250,1300,1350,1400,1450,1500,1550,1600,1650,1700,1750,1800], "title": null, "grid": false, "domain": false, "tickSize": 3, "labelPadding": 1, "labelFontSize": 6.5, "minExtent": 20, "maxExtent": 20}},
  "y2": {"field": "h"}}},
{"data": {"name": "px"}, "mark": {"type": "bar", "width": 1.8, "stroke": "#111", "strokeWidth": 0.5},
 "encoding": {
  "x": {"field": "d", "type": "temporal"},
  "y": {"field": "o", "type": "quantitative", "scale": {"domain": [1092, 1827]}, "axis": null},
  "y2": {"field": "c"},
  "fill": {"condition": {"test": "datum.c >= datum.o", "value": "#ffffff"}, "value": "#111111"}}},
{"data": {"name": "trend"}, "transform": [{"filter": {"field": "g", "equal": "orange"}}],
 "mark": {"type": "line", "color": "#f07822", "strokeWidth": 2.2, "clip": true},
 "encoding": {"x": {"field": "d", "type": "temporal"}, "y": {"field": "v", "type": "quantitative", "scale": {"domain": [1092, 1827]}, "axis": null}, "detail": {"field": "k"}}},
{"data": {"name": "trend"}, "transform": [{"filter": {"field": "g", "equal": "red"}}],
 "mark": {"type": "line", "color": "#e01616", "strokeWidth": 3.2, "clip": true},
 "encoding": {"x": {"field": "d", "type": "temporal"}, "y": {"field": "v", "type": "quantitative", "scale": {"domain": [1092, 1827]}, "axis": null}, "detail": {"field": "k"}}},
{"data": {"name": "trend"}, "transform": [{"filter": {"field": "g", "equal": "green"}}],
 "mark": {"type": "line", "color": "#6fd36f", "strokeWidth": 0.8, "clip": true},
 "encoding": {"x": {"field": "d", "type": "temporal"}, "y": {"field": "v", "type": "quantitative", "scale": {"domain": [1092, 1827]}, "axis": null}, "detail": {"field": "k"}}},
{"data": {"name": "vline"}, "mark": {"type": "rule", "color": "#7070c0"}, "encoding": {"x": {"field": "d", "type": "temporal"}}},
{"data": {"name": "labels"}, "mark": {"type": "text", "color": "#3535b5", "fontSize": 12.5, "align": "center", "baseline": "middle"},
 "encoding": {"x": {"field": "d", "type": "temporal"}, "y": {"field": "v", "type": "quantitative", "scale": {"domain": [1092, 1827]}, "axis": null}, "text": {"field": "t"}}}
],
"resolve": {"axis": {"y": "independent"}}
},
{
"width": 555, "height": 27,
"layer": [
{"data": {"name": "px"}, "mark": {"type": "bar", "width": 1, "color": "#9494d6"},
 "encoding": {
  "x": {"field": "d", "type": "temporal", "scale": {"domain": [{"year":2023,"month":6,"date":1,"utc":true},{"year":2024,"month":6,"date":11,"utc":true}]}, "axis": {"title": null, "grid": true, "domain": false, "tickCount": {"interval": "month", "step": 1}, "tickSize": 11, "labelPadding": -10, "labelAlign": "left", "labelBaseline": "top", "labelDx": 2, "labelFontSize": 7, "labelOverlap": false, "labelFlush": false, "labelExpr": "month(datum.value) == 0 ? timeFormat(datum.value, '%Y') : timeFormat(datum.value, '%B')", "minExtent": 11, "maxExtent": 11}},
  "y": {"field": "v", "type": "quantitative", "scale": {"domain": [0, 49000]}, "axis": {"orient": "left", "format": "d", "values": [10000, 20000, 30000, 40000], "title": null, "grid": false, "domain": false, "tickSize": 3, "labelPadding": 1, "labelFontSize": 5.5, "labelOverlap": false, "minExtent": 20, "maxExtent": 20}}}},
{"data": {"name": "vline"}, "mark": {"type": "rule", "color": "#7070c0"},
 "encoding": {"x": {"field": "d", "type": "temporal"}, "y": {"datum": 0, "type": "quantitative", "scale": {"domain": [0, 49000]}, "axis": {"orient": "right", "format": "d", "values": [10000, 20000, 30000, 40000], "title": null, "grid": false, "domain": false, "tickSize": 3, "labelPadding": 1, "labelFontSize": 5.5, "labelOverlap": false, "minExtent": 21, "maxExtent": 21}}, "y2": {"datum": 49000}}}
],
"resolve": {"axis": {"y": "independent"}}
}
]
}
